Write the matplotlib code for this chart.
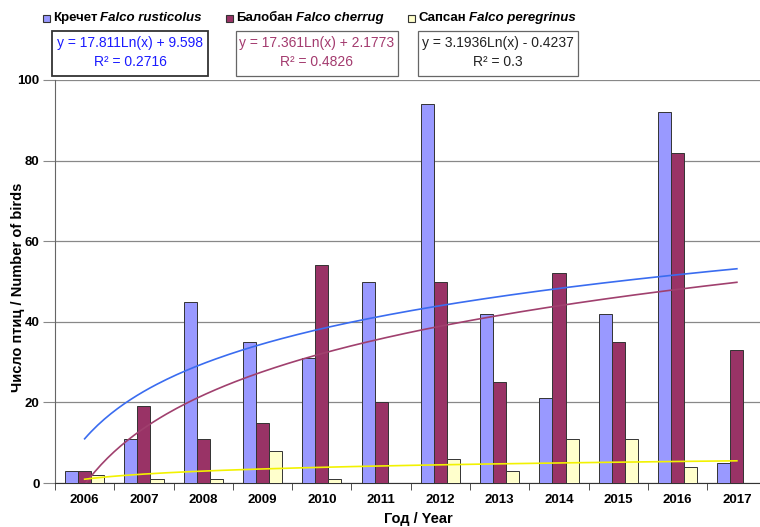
import numpy as np
import matplotlib
matplotlib.use("Agg")
import matplotlib.pyplot as plt
from matplotlib.patches import Rectangle

years = ["2006", "2007", "2008", "2009", "2010", "2011", "2012", "2013", "2014", "2015", "2016", "2017"]
gyrfalcon = [3, 11, 45, 35, 31, 50, 94, 42, 21, 42, 92, 5]
saker = [3, 19, 11, 15, 54, 20, 50, 25, 52, 35, 82, 33]
peregrine = [2, 1, 1, 8, 1, 0, 6, 3, 11, 11, 4, 0]

names_ru = ["Кречет ", "Балобан ", "Сапсан "]
names_lat = ["Falco rusticolus", "Falco cherrug", "Falco peregrinus"]
eq_text = ["y = 17.811Ln(x) + 9.598", "y = 17.361Ln(x) + 2.1773", "y = 3.1936Ln(x) - 0.4237"]
r2_text = ["R² = 0.2716", "R² = 0.4826", "R² = 0.3"]

bar_colors = ["#9999ff", "#993366", "#ffffcc"]
line_colors = ["#3a6cf0", "#a0406e", "#f2f200"]
eq_colors = ["#1a1aff", "#a33a6e", "#222222"]

plt.rcParams['font.family'] = ['Liberation Sans', 'DejaVu Sans']

W, H = 760, 527
fig = plt.figure(figsize=(W / 100, H / 100), dpi=100)
ax = fig.add_axes([55 / W, 1 - 483 / H, 1 - 55 / W, (483 - 80) / H])

x = np.arange(len(years))
bw = 0.22
series = [gyrfalcon, saker, peregrine]
for i, (vals, c) in enumerate(zip(series, bar_colors)):
    ax.bar(x + (i - 1) * bw, vals, width=bw, color=c, edgecolor="#333333", linewidth=0.7, zorder=3)

# logarithmic trend lines fitted to the data (x = 1..12)
xs = np.linspace(1, len(years), 200)
for vals, c in zip(series, line_colors):
    a, b = np.polyfit(np.log(np.arange(1, len(years) + 1)), vals, 1)
    ax.plot(xs - 1, a * np.log(xs) + b, color=c, lw=1.2, zorder=4)

ax.set_ylim(0, 100)
ax.set_xlim(-0.5, 11.39)
ax.set_yticks([0, 20, 40, 60, 80, 100])
ax.yaxis.grid(True, color="#888888", lw=0.9, zorder=0)
ax.set_xticks(x)
ax.set_xticklabels(years, fontsize=9.5, fontweight="bold")
ax.set_xticks(np.arange(-0.5, 11.5, 1), minor=True)
ax.tick_params(axis="x", which="major", length=0, pad=8)
ax.tick_params(axis="x", which="minor", length=5, color="#333333")
ax.tick_params(axis="y", length=9, color="#888888", labelsize=9.5, pad=2)
for lab in ax.get_yticklabels():
    lab.set_fontweight("bold")
for s in ["top", "right"]:
    ax.spines[s].set_visible(False)
ax.spines["left"].set_color("#666666")
ax.spines["bottom"].set_color("#333333")

fig.text(418 / W, 1 - 519 / H, "Год / Year", fontsize=10.5, fontweight="bold", ha="center", va="center")
fig.text(18 / W, 1 - 287 / H, "Число птиц / Number of birds", fontsize=10.5, fontweight="bold",
         ha="center", va="center", rotation=90)

renderer = fig.canvas.get_renderer()

# legend
sq_x = [43, 226, 408]
for i in range(3):
    fig.patches.append(Rectangle(((sq_x[i]) / W, 1 - 22 / H), 7 / W, 7 / H, transform=fig.transFigure,
                                 facecolor=bar_colors[i], edgecolor="#333333", lw=0.8))
    t = fig.text((sq_x[i] + 10) / W, 1 - 18 / H, names_ru[i].strip(), fontsize=9.5, fontweight="bold",
                 va="center", ha="left")
    bb = t.get_window_extent(renderer)
    fig.text((bb.x1 + 3) / W, 1 - 18 / H, names_lat[i], fontsize=9.5, fontweight="bold", style="italic",
             va="center", ha="left")

# equation boxes
boxes = [(52, 208), (236, 398), (418, 578)]
for i, (x0, x1) in enumerate(boxes):
    lw = 1.3 if i == 0 else 0.9
    ec = "#333333" if i == 0 else "#666666"
    fig.patches.append(Rectangle((x0 / W, 1 - 76 / H), (x1 - x0) / W, 45 / H, transform=fig.transFigure,
                                 facecolor="white", edgecolor=ec, lw=lw))
    cx = (x0 + x1) / 2 / W
    fig.text(cx, 1 - 43 / H, eq_text[i], fontsize=10, color=eq_colors[i], ha="center", va="center")
    fig.text(cx, 1 - 62 / H, r2_text[i], fontsize=10, color=eq_colors[i], ha="center", va="center")

fig.savefig("out.png", dpi=100)
